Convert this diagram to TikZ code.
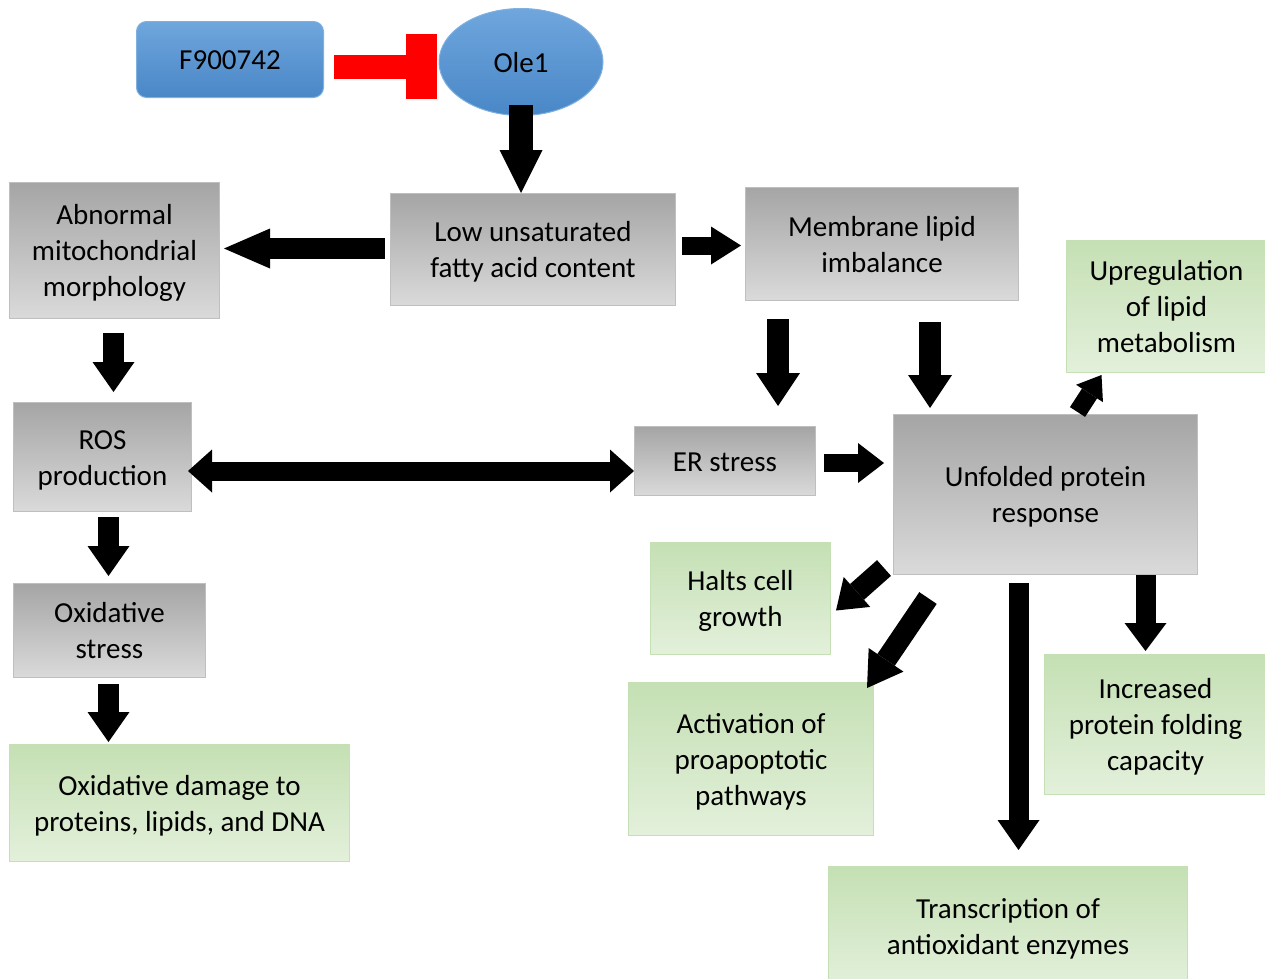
\documentclass[tikz,border=0pt]{standalone}
\usepackage{fontspec}
\setmainfont{Carlito}
\usetikzlibrary{arrows.meta,calc,shapes.geometric}

\definecolor{greyTop}{HTML}{A5A5A5}
\definecolor{greyBot}{HTML}{DADADA}
\definecolor{greyLine}{HTML}{BFBFBF}
\definecolor{greenTop}{HTML}{C5E0B4}
\definecolor{greenBot}{HTML}{E3F0DB}
\definecolor{greenLine}{HTML}{C5E0B4}
\definecolor{blueTop}{HTML}{6FA6DD}
\definecolor{blueBot}{HTML}{4987C7}
\definecolor{blueLine}{HTML}{7EB0E0}

% fixed line struts so every text block sits at the same place in its box
\newcommand{\topstrut}{\rule{0pt}{28.6pt}}
\newcommand{\botstrut}{\rule[-7.8pt]{0pt}{7.8pt}}

\tikzset{
  box/.style={rectangle, anchor=north west, align=center, inner sep=0pt,
    line width=1pt, font=\fontsize{29}{36}\selectfont},
  greybox/.style={box, draw=greyLine, top color=greyTop, bottom color=greyBot},
  greenbox/.style={box, draw=greenLine, top color=greenTop, bottom color=greenBot},
  barrow/.style n args={3}{line width=#1pt, line cap=butt,
    -{Triangle[length=#2pt,width=#3pt,line width=0pt]}},
}

\begin{document}
\begin{tikzpicture}[x=1pt,y=-1pt]
\useasboundingbox (0,0) rectangle (1265,978);
\clip (0,0) rectangle (1265,978);

% inhibitor and its target
\node[box, draw=blueLine, top color=blueTop, bottom color=blueBot,
      rounded corners=10pt, minimum width=187pt, minimum height=76pt]
      (f9) at (136,21) {\topstrut F900742\botstrut};
\node[ellipse, draw=blueLine, line width=1pt, top color=blueTop, bottom color=blueBot,
      minimum width=164pt, minimum height=107pt, inner sep=0pt,
      font=\fontsize{29}{36}\selectfont]
      (ole) at (521,62) {\topstrut Ole1\botstrut};

% process boxes
\node[greybox, minimum width=285pt, minimum height=112pt] (low) at (390,193)
  {\topstrut Low unsaturated\\fatty acid content\botstrut};
\node[greybox, minimum width=210pt, minimum height=136pt] (abn) at (9,182)
  {\topstrut Abnormal\\mitochondrial\\morphology\botstrut};
\node[greybox, minimum width=273pt, minimum height=113pt] (mem) at (745,187)
  {\topstrut Membrane lipid\\imbalance\botstrut};
\node[greenbox, minimum width=200pt, minimum height=132pt] (upreg) at (1066,240)
  {\topstrut Upregulation\\of lipid\\metabolism\botstrut};
\node[greybox, minimum width=178pt, minimum height=109pt] (ros) at (13,402)
  {\topstrut ROS\\production\botstrut};
\node[greybox, minimum width=181pt, minimum height=69pt] (er) at (634,426)
  {\topstrut ER stress\botstrut};
\node[greybox, minimum width=304pt, minimum height=160pt] (upr) at (893,414)
  {\topstrut Unfolded protein\\response\botstrut};
\node[greenbox, minimum width=180pt, minimum height=112pt] (halt) at (650,542)
  {\topstrut Halts cell\\growth\botstrut};
\node[greybox, minimum width=192pt, minimum height=94pt] (ox) at (13,583)
  {\topstrut Oxidative\\stress\botstrut};
\node[greenbox, minimum width=340pt, minimum height=117pt] (dmg) at (9,744)
  {\topstrut Oxidative damage to\\proteins, lipids, and DNA\botstrut};
\node[greenbox, minimum width=245pt, minimum height=153pt] (act) at (628,682)
  {\topstrut Activation of\\proapoptotic\\pathways\botstrut};
\node[greenbox, minimum width=222pt, minimum height=140pt] (incr) at (1044,654)
  {\topstrut Increased\\protein folding\\capacity\botstrut};
\node[greenbox, minimum width=359pt, minimum height=120pt] (trans) at (828,866)
  {\topstrut Transcription of\\antioxidant enzymes\botstrut};

% inhibition
\draw[red, line width=24pt, -{Rectangle[length=31pt,width=65pt,line width=0pt]}]
  ($(f9.east)+(10,7)$) -- ($(f9.east -| ole.west)+(-2,7)$);

% block arrows
\draw[barrow={24}{43}{43}] ($(ole.south)+(0,-11)$) -- (ole.south |- low.north);
\draw[barrow={21}{46}{40}] ($(low.west)+(-5,-1)$) -- ($(abn.east |- low.west)+(4,-1)$);
\draw[barrow={18}{30}{38}] ($(low.east)+(6,-4)$) -- ($(mem.west |- low.east)+(-4,-4)$);
\draw[barrow={21}{30}{42}] ($(abn.south)+(-1,14)$) -- ($(abn.south |- ros.north)+(-1,-10)$);
\draw[barrow={22}{33}{44}] ($(mem.south -| er.north)+(53,18)$) -- ($(er.north)+(53,-20)$);
\draw[barrow={22}{33}{44}] ($(mem.south)+(48,21)$) -- ($(mem.south |- upr.north)+(48,-6)$);
\draw[{Triangle[length=24pt,width=43pt,line width=0pt]}-{Triangle[length=24pt,width=43pt,line width=0pt]},
      line width=19pt] ($(ros.east)+(-4,14)$) -- ($(er.west |- ros.east)+(0,14)$);
\draw[barrow={18}{26}{40}] ($(er.east)+(8,2)$) -- ($(upr.west |- er.east)+(-9,2)$);
\draw[barrow={18}{22}{32}] ($(upr.north)+(32,-2)$) -- ($(upreg.south)+(-65,2)$);
\draw[barrow={21}{30}{42}] ($(ros.south)+(6,5)$) -- ($(ros.south |- ox.north)+(6,-7)$);
\draw[barrow={21}{30}{42}] ($(ox.south)+(-1,6)$) -- ($(ox.south |- dmg.north)+(-1,-2)$);
\draw[barrow={21}{28}{40}] ($(upr.south west)+(-9,-7)$) -- ($(halt.east)+(5,12)$);
\draw[barrow={21}{34}{42}] ($(upr.south west)+(35,23)$) -- ($(act.north east)+(-7,6)$);
\draw[barrow={20}{30}{42}] ($(upr.south)+(-27,8)$) -- ($(upr.south |- trans.north)+(-27,-16)$);
\draw[barrow={20}{28}{42}] ($(upr.south)+(100,0)$) -- ($(upr.south |- incr.north)+(100,-3)$);
\end{tikzpicture}
\end{document}
